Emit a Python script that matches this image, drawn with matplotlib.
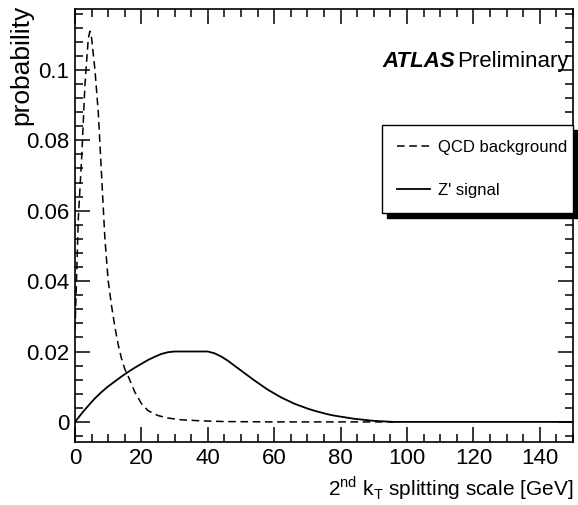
import matplotlib
matplotlib.use("Agg")
import matplotlib.pyplot as plt
from matplotlib.ticker import MultipleLocator

plt.rcParams['font.family'] = ['Liberation Sans', 'DejaVu Sans']
plt.rcParams['mathtext.fontset'] = 'custom'
plt.rcParams['mathtext.rm'] = 'Liberation Sans'

# QCD background (dashed)
bkg_x = [0, 1, 2, 3, 4, 4.5, 5, 6, 7, 8, 9, 10, 11, 12, 13, 14, 15, 16, 18, 20,
         22, 25, 28, 32, 38, 45, 60, 96]
bkg_y = [0.026, 0.058, 0.075, 0.096, 0.109, 0.111, 0.109, 0.100, 0.088, 0.070,
         0.052, 0.040, 0.033, 0.027, 0.022, 0.018, 0.015, 0.013, 0.0085, 0.0052,
         0.0032, 0.0018, 0.0011, 0.0006, 0.0003, 0.0001, 0.0, 0.0]

# Z' signal (solid)
sig_x = [0, 2, 4, 6, 8, 10, 12, 14, 16, 18, 20, 22, 24, 26, 28, 30, 40, 42, 44,
         46, 48, 50, 52, 54, 56, 58, 60, 62, 64, 66, 68, 70, 72, 74, 76, 78, 80,
         82, 84, 86, 88, 90, 92, 94, 96, 150]
sig_y = [0.0, 0.0024, 0.0046, 0.0067, 0.0085, 0.0101, 0.0115, 0.0129, 0.0142,
         0.0154, 0.0165, 0.0176, 0.0185, 0.0193, 0.0198, 0.0200, 0.0200, 0.0195,
         0.0186, 0.0174, 0.0160, 0.0146, 0.0132, 0.0118, 0.0105, 0.0092, 0.0081,
         0.0070, 0.0061, 0.0052, 0.0045, 0.0038, 0.0032, 0.0027, 0.0022, 0.0018,
         0.0015, 0.0012, 0.0009, 0.0007, 0.0005, 0.0003, 0.0002, 0.0001, 0.0, 0.0]

fig = plt.figure(figsize=(5.78, 5.05), dpi=100)
ax = fig.add_axes([0.1298, 0.1248, 0.8615, 0.8574])

ax.plot(bkg_x, bkg_y, color='black', lw=1.1, ls=(0, (5, 3)), label='QCD background')
ax.plot(sig_x, sig_y, color='black', lw=1.3, ls='-', label="Z' signal")

ax.set_xlim(0, 150)
ax.set_ylim(-0.0057, 0.1173)

ax.xaxis.set_major_locator(MultipleLocator(20))
ax.xaxis.set_minor_locator(MultipleLocator(5))
ax.yaxis.set_major_locator(MultipleLocator(0.02))
ax.yaxis.set_minor_locator(MultipleLocator(0.004))
ax.set_yticks([0, 0.02, 0.04, 0.06, 0.08, 0.1])
ax.set_yticklabels(['0', '0.02', '0.04', '0.06', '0.08', '0.1'])

ax.tick_params(which='both', direction='in', top=True, right=True,
               labelsize=16, width=1.1, pad=4)
ax.tick_params(which='major', length=11)
ax.tick_params(which='minor', length=6)
for sp in ax.spines.values():
    sp.set_linewidth(1.2)

ax.set_xlabel(r'2$^{\mathregular{nd}}$ k$_{\mathregular{T}}$ splitting scale [GeV]',
              fontsize=15, loc='right', labelpad=4)
ax.set_ylabel('probability', fontsize=19, loc='top')
ax.yaxis.set_label_coords(-0.083, 1.01)

ax.text(0.618, 0.865, 'ATLAS', transform=ax.transAxes, fontsize=16,
        fontweight='bold', fontstyle='italic', va='baseline')
ax.text(0.768, 0.865, 'Preliminary', transform=ax.transAxes, fontsize=16,
        va='baseline')

leg = ax.legend(loc='lower left', bbox_to_anchor=(0.616, 0.529, 0.384, 0.201),
                mode='expand', fontsize=12, frameon=True, fancybox=False,
                edgecolor='black', framealpha=1, borderaxespad=0,
                handlelength=2.0, handletextpad=0.5, labelspacing=1.7,
                borderpad=0.9,
                shadow={'color': 'black', 'alpha': 1, 'ox': 4, 'oy': -4})
leg.get_frame().set_linewidth(1.0)

fig.savefig('out.png', dpi=100)
